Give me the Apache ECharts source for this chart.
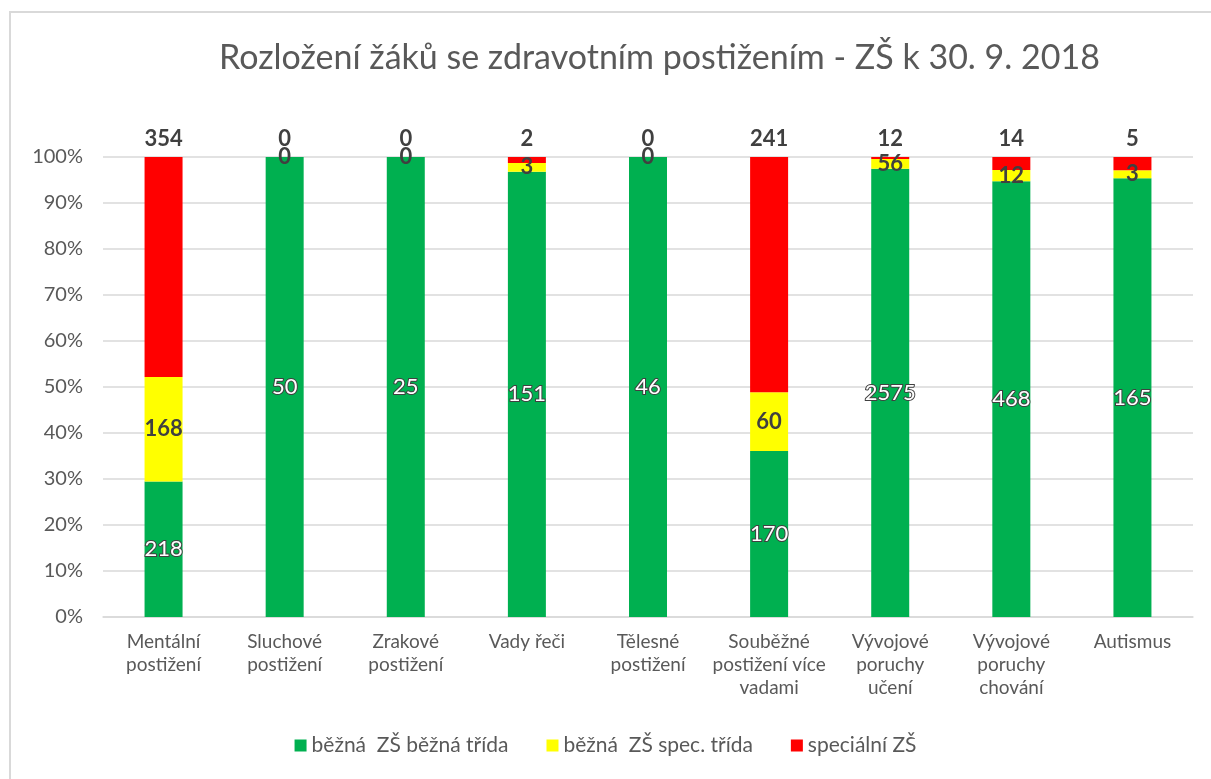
<!DOCTYPE html>
<html>
<head>
<meta charset="utf-8">
<script src="https://cdn.jsdelivr.net/npm/echarts@6/dist/echarts.min.js"></script>
<style>
  html, body { margin: 0; padding: 0; background: #fff; overflow: hidden; }
  #chart { width: 1211px; height: 779px; }
  .frame {
    position: absolute; left: 9px; top: 11px; width: 1230px; height: 800px;
    border: 2px solid #d9d9d9; pointer-events: none;
  }
</style>
</head>
<body>
<div id="chart"></div>
<div class="frame"></div>
<script>
// kategorie a počty žáků
const categories = [
  "Mentální\npostižení", "Sluchové\npostižení", "Zrakové\npostižení", "Vady řeči",
  "Tělesné\npostižení", "Souběžné\npostižení více\nvadami", "Vývojové\nporuchy\nučení",
  "Vývojové\nporuchy\nchování", "Autismus"
];
const seriesNames = ["běžná  ZŠ běžná třída", "běžná  ZŠ spec. třída", "speciální ZŠ"];
const bezna = [218, 50, 25, 151, 46, 170, 2575, 468, 165];
const specTrida = [168, 0, 0, 3, 0, 60, 56, 12, 3];
const specialni = [354, 0, 0, 2, 0, 241, 12, 14, 5];
const yTicks = ["0%", "10%", "20%", "30%", "40%", "50%", "60%", "70%", "80%", "90%", "100%"];

const totals = bezna.map((v, i) => v + specTrida[i] + specialni[i]);
const toPct = arr => arr.map((v, i) => ({ value: v / totals[i] * 100, count: v }));

const font = "Lato, 'Open Sans', sans-serif";
const txt = "#595959";

const chart = echarts.init(document.getElementById("chart"));

const option = {
  animation: false,
  textStyle: { fontFamily: font },
  title: {
    text: "Rozložení žáků se zdravotním postižením - ZŠ k 30. 9. 2018",
    left: 214,
    top: 36,
    textStyle: { fontSize: 34, fontWeight: "normal", color: txt, fontFamily: font },
  },
  legend: {
    bottom: 18,
    left: "center",
    itemWidth: 12,
    itemHeight: 12,
    itemGap: 38,
    icon: "rect",
    textStyle: { fontSize: 21, color: txt, fontFamily: font },
  },
  grid: { left: 103, right: 18, top: 157, bottom: 162 },
  xAxis: {
    type: "category",
    data: categories,
    axisLine: { lineStyle: { color: "#d9d9d9", width: 1.5 } },
    axisTick: { show: false },
    axisLabel: { color: txt, fontSize: 19, lineHeight: 23, margin: 13, interval: 0 },
  },
  yAxis: {
    type: "value",
    min: 0,
    max: 100,
    interval: 10,
    axisLine: { show: false },
    axisTick: { show: false },
    splitLine: { lineStyle: { color: "#d9d9d9", width: 1.5 } },
    axisLabel: {
      color: txt, fontSize: 20, margin: 20,
      formatter: v => yTicks[Math.round(v / 10)],
    },
  },
  series: [
    {
      name: seriesNames[0],
      type: "bar",
      stack: "a",
      barWidth: 38,
      itemStyle: { color: "#00b050" },
      data: toPct(bezna),
      label: {
        show: true,
        position: "inside",
        color: "#fff",
        fontSize: 22,
        textBorderColor: "#404040",
        textBorderWidth: 2,
        formatter: p => p.data.count,
      },
    },
    {
      name: seriesNames[1],
      type: "bar",
      stack: "a",
      itemStyle: { color: "#ffff00" },
      data: toPct(specTrida),
      label: {
        show: true,
        position: "inside",
        color: "#404040",
        fontSize: 22,
        fontWeight: "bold",
        formatter: p => p.data.count,
      },
    },
    {
      name: seriesNames[2],
      type: "bar",
      stack: "a",
      itemStyle: { color: "#ff0000" },
      data: toPct(specialni),
      label: {
        show: true,
        position: "top",
        distance: 7,
        color: "#404040",
        fontSize: 22,
        fontWeight: "bold",
        formatter: p => p.data.count,
      },
    },
  ],
};

chart.setOption(option);
</script>
</body>
</html>
